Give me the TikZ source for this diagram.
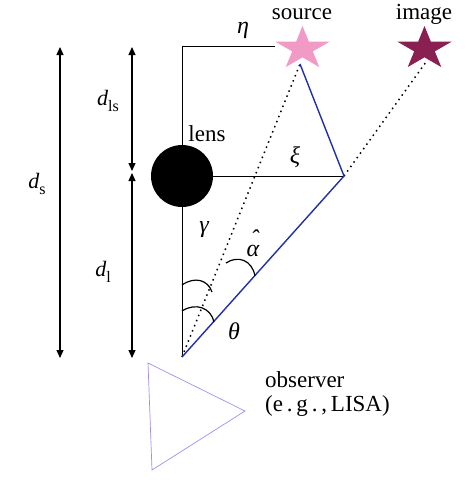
\documentclass[tikz,border=0pt]{standalone}
\usepackage{fontspec}
\setmainfont{Liberation Serif}
\usetikzlibrary{arrows.meta}
\definecolor{srcpink}{HTML}{F09AC5}
\definecolor{imgred}{HTML}{8A1F52}
\definecolor{rayblue}{HTML}{1F2FA8}
\definecolor{obsviolet}{HTML}{A58CF0}
\tikzset{
  lbl/.style={inner sep=0pt, font=\fontsize{23}{27}\selectfont},
  greek/.style={inner sep=0pt, font=\fontsize{24}{28}\selectfont\itshape},
  dlbl/.style={inner sep=0pt, font=\fontsize{22}{26}\selectfont},
  thinline/.style={line width=0.8pt, black},
  ray/.style={line width=1.4pt, rayblue},
  dotray/.style={line width=1.5pt, black, dash pattern=on 1.5pt off 4pt},
  dimarrow/.style={line width=1.1pt, {Triangle[length=8pt,width=7pt]}-{Triangle[length=8pt,width=7pt]}},
  anglearc/.style={line width=1.2pt}
}
\newcommand{\drawstar}[3]{%
  \fill[#3, shift={(#1,#2)}, xscale=28.5, yscale=-22.7]
    (90:1) -- (126:0.38) -- (162:1) -- (198:0.38) -- (234:1) -- (270:0.38)
    -- (306:1) -- (342:0.38) -- (18:1) -- (54:0.38) -- cycle;}
\newcommand{\dsub}[1]{\textit{d}\raisebox{-0.28em}{\fontsize{16}{18}\selectfont #1}}
\begin{document}
\begin{tikzpicture}[x=1pt,y=-1pt]
\useasboundingbox (0,0) rectangle (472,482);
% key points
\coordinate (top) at (182,46.5);
\coordinate (obs) at (182,357);
\coordinate (kink) at (344,176);
\coordinate (src) at (300,64);
\coordinate (img) at (426,62);
\coordinate (srcleft) at (275,46.5);
% vertical axis and top line
\draw[thinline] (srcleft) -- (top) -- (obs);
% lens
\node[circle, fill=black, minimum size=62pt, inner sep=0pt] (lens) at (182,176) {};
\draw[thinline] (lens.east) -- (kink);
% stars
\drawstar{302.5}{48.7}{srcpink}
\drawstar{424.5}{48.7}{imgred}
\node[lbl] (srclbl) at (302,14) {source};
\node[lbl] (imglbl) at (424,14) {image};
% rays
\draw[dotray] (obs) -- (src);
\draw[dotray] (kink) -- (img);
\draw[ray] (obs) -- (kink) -- (src);
% angle arcs
\draw[anglearc] (182,285) .. controls (195,276) and (208,280) .. (212,292);
\draw[anglearc] (182,311) .. controls (196,302) and (211,308) .. (214,322);
\draw[anglearc] (226,263) .. controls (238,255) and (252,260) .. (255,276);
% labels
\node[greek] (eta) at (243,30) {η};
\node[lbl] (lenslbl) at (207,134) {lens};
\node[greek] (xi) at (295,157) {ξ};
\node[greek] (gamma) at (204,230) {γ};
\node[greek] (alpha) at (253,243) {\makebox[0pt][l]{\raisebox{0.42em}{\hspace{0.16em}ˆ}}α};
\node[greek] (theta) at (234,331) {θ};
% dimension arrows
\coordinate (dsT) at (60,47);
\coordinate (dsB) at (60,358);
\coordinate (dlsT) at (132,47);
\coordinate (dlsB) at (132,171);
\coordinate (dlT) at (132,173);
\coordinate (dlB) at (132,358);
\draw[dimarrow] (dsT) -- (dsB);
\draw[dimarrow] (dlsT) -- (dlsB);
\draw[dimarrow] (dlT) -- (dlB);
\node[dlbl] (ds) at (37,184) {\dsub{s}};
\node[dlbl] (dls) at (108,101) {\dsub{ls}};
\node[dlbl] (dl) at (103,272) {\dsub{l}};
% observer
\coordinate (o1) at (148,363);
\coordinate (o2) at (245,411);
\coordinate (o3) at (152,470);
\draw[obsviolet, line width=0.7pt] (o1) -- (o2) -- (o3) -- cycle;
\node[lbl, anchor=west] (obslbl) at (265,380) {observer};
\node[lbl, anchor=west] (lisalbl) at (265,406) {(e\,.\,g\,.\,,\,LISA)};
\end{tikzpicture}
\end{document}
